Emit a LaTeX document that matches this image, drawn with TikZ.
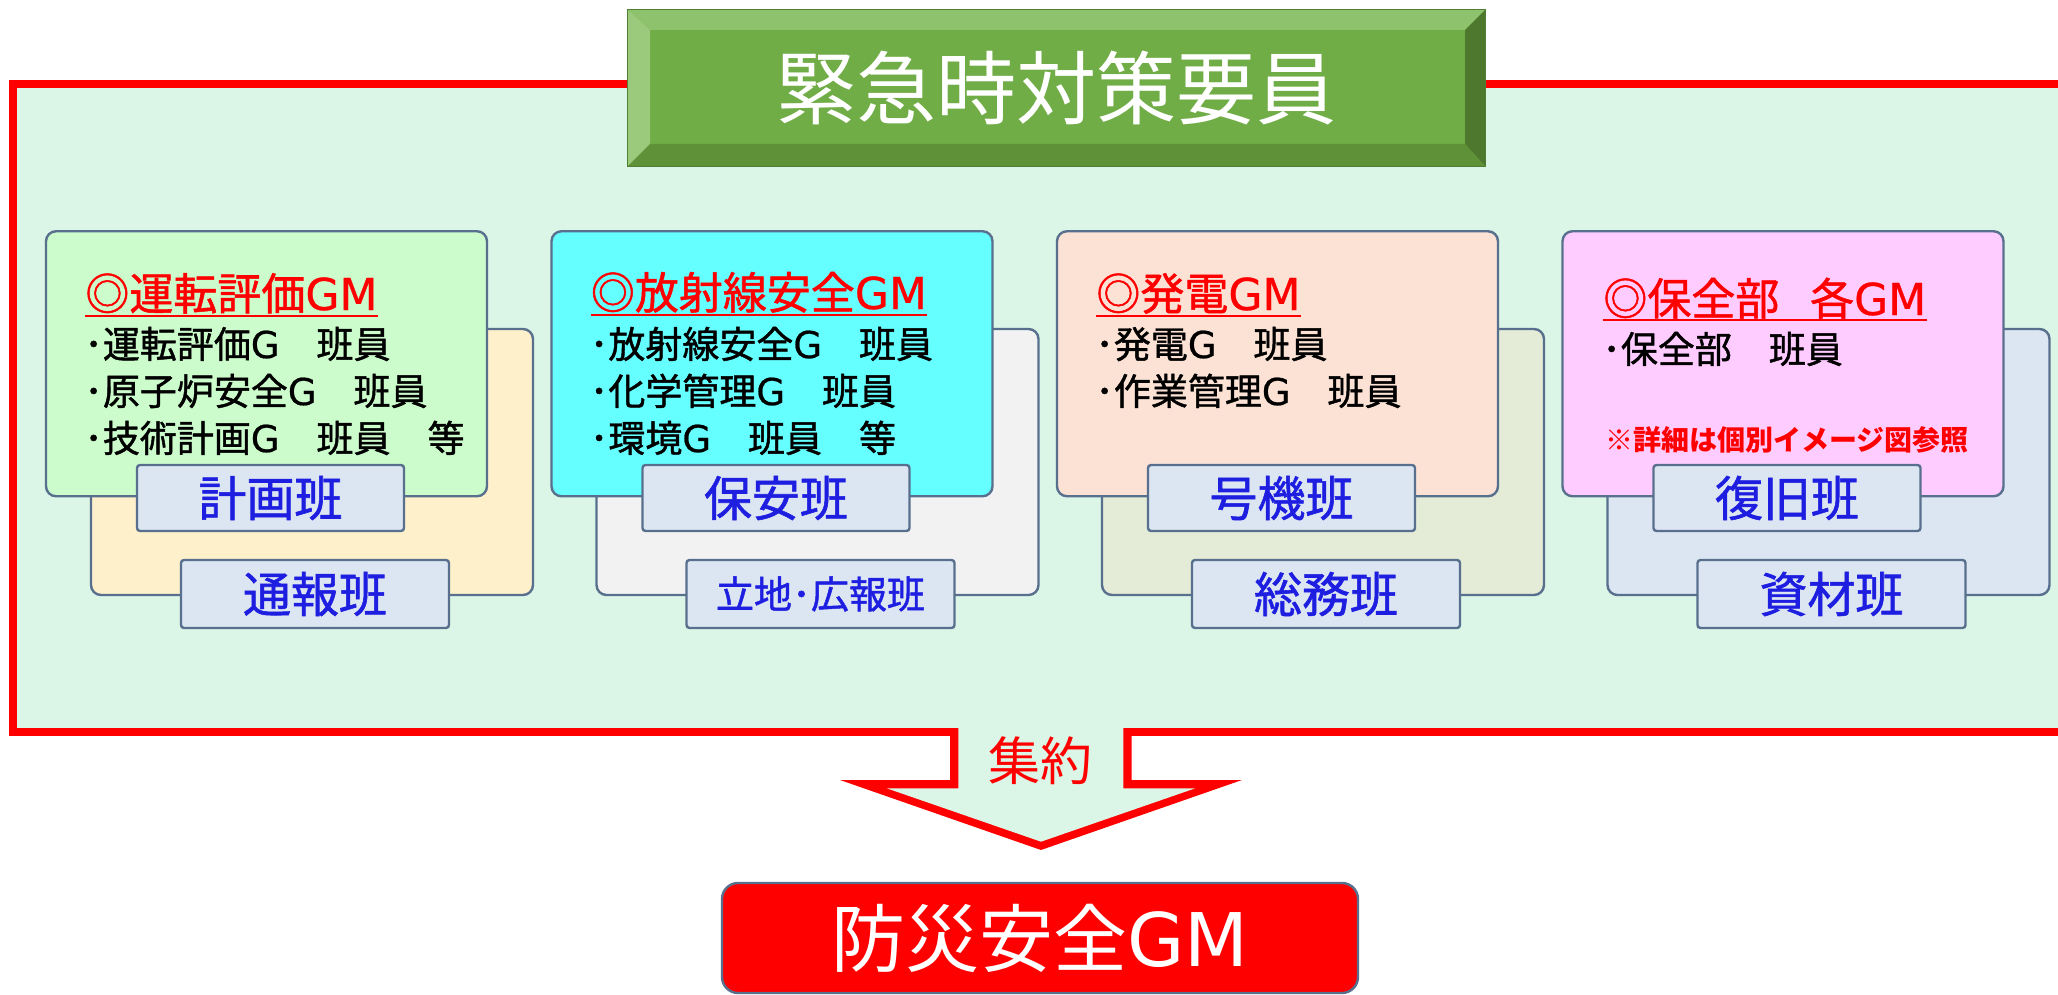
\documentclass[tikz,border=0pt]{standalone}
\usepackage{fontspec}
\setmainfont{Noto Sans CJK JP}
\newfontfamily\jpmed{Noto Sans CJK JP}[FakeBold=1.2]
\newfontfamily\latmed{DejaVu Sans}[FakeBold=0.6]
\newfontfamily\lat{DejaVu Sans}
\newcommand{\GM}{{\latmed GM}}
\newcommand{\Gl}{{\latmed G}}
\definecolor{mint}{RGB}{219,245,231}
\definecolor{boxline}{RGB}{88,112,142}
\definecolor{lblfill}{RGB}{220,230,242}
\definecolor{lbltext}{RGB}{30,30,225}
\definecolor{fA}{RGB}{204,252,204}
\definecolor{bA}{RGB}{254,240,203}
\definecolor{fB}{RGB}{102,255,255}
\definecolor{bB}{RGB}{242,242,242}
\definecolor{fC}{RGB}{251,226,213}
\definecolor{bC}{RGB}{228,236,216}
\definecolor{fD}{RGB}{255,204,255}
\definecolor{bD}{RGB}{220,230,242}
\definecolor{tgmain}{RGB}{112,173,71}
\definecolor{tgtop}{RGB}{143,194,108}
\definecolor{tgleft}{RGB}{155,202,124}
\definecolor{tgright}{RGB}{78,120,45}
\definecolor{tgbot}{RGB}{95,145,56}
\definecolor{tgline}{RGB}{80,126,50}
\definecolor{framered}{RGB}{255,0,0}
\tikzset{
  x=0.5pt, y=-0.5pt,
  bx/.style={draw=boxline, line width=1.2pt, rounded corners=5pt, inner sep=0pt},
  lbl/.style={draw=boxline, line width=1.2pt, rounded corners=1.5pt, fill=lblfill, inner sep=0pt, text=lbltext, font=\jpmed\fontsize{24}{28}\selectfont},
  ttl/.style={anchor=base west, inner sep=0pt, text=red, font=\jpmed\fontsize{22}{26}\selectfont},
  ln/.style={anchor=base west, inner sep=0pt, text=black, font=\jpmed\fontsize{18.5}{22}\selectfont},
  uline/.style={draw=red, line width=1pt},
}
\newcommand{\grp}[6]{%
  \node[bx, fill=#4, minimum width=221pt, minimum height=133pt] (#1back) at (#2+266,462) {};
  \node[lbl, minimum width=134pt, minimum height=34pt] (#1lb) at (#2+269,594) {#6};
  \node[bx, fill=#3, minimum width=220.5pt, minimum height=132.5pt] (#1front) at (#2+220.5,363.75) {};
  \node[lbl, minimum width=133.5pt, minimum height=33pt] (#1la) at (#2+224.5,498) {#5};
}
\begin{document}
\begin{tikzpicture}
\useasboundingbox (0,0) rectangle (2058,995);
\clip (0,0) rectangle (2058,995);
\fill[white] (0,0) rectangle (2058,995);
% frame
\draw[framered, line width=4pt, fill=mint] (13,84) rectangle (2080,732);
% arrow notch
\fill[framered] (950,732) -- (950,780) -- (840,780) -- (1041,850) -- (1242,780) -- (1131.7,780) -- (1131.7,732) -- cycle;
\fill[mint] (958.3,726) -- (958.3,788.3) -- (886.7,788.3) -- (1041,841.7) -- (1195.3,788.3) -- (1123.3,788.3) -- (1123.3,726) -- cycle;
\node[text=red, font=\fontsize{26}{28}\selectfont, inner sep=0pt] (shuyaku) at (1040,761) {集約};
% title box
\node[fill=tgmain, inner sep=0pt, minimum width=428.5pt, minimum height=78pt, text=white, font=\fontsize{40}{44}\selectfont] (titlebox) at (1056.5,88) {緊急時対策要員};
\fill[tgtop] (628,10) -- (1485,10) -- (1465,30) -- (650,30) -- cycle;
\fill[tgleft] (628,10) -- (650,30) -- (650,144) -- (628,166) -- cycle;
\fill[tgright] (1485,10) -- (1465,30) -- (1465,144) -- (1485,166) -- cycle;
\fill[tgbot] (628,166) -- (650,144) -- (1465,144) -- (1485,166) -- cycle;
\draw[tgline, line width=0.8pt] (titlebox.north west) rectangle (titlebox.south east);
% groups
\grp{A}{46}{fA}{bA}{計画班}{通報班}
\grp{B}{551.5}{fB}{bB}{保安班}{{\fontsize{19}{22}\selectfont 立地･広報班}}
\grp{C}{1057}{fC}{bC}{号機班}{総務班}
\grp{D}{1562.5}{fD}{bD}{復旧班}{資材班}
% group A text
\node[ttl] (At) at (85,310) {◎運転評価\GM};
\draw[uline] ([yshift=-2.75pt]At.base west) -- ([yshift=-2.75pt]At.base east);
\node[ln] (A1) at (84,358) {･運転評価\Gl　班員};
\node[ln] (A2) at (84,405) {･原子炉安全\Gl　班員};
\node[ln] (A3) at (84,452) {･技術計画\Gl　班員　等};
% group B text
\node[ttl] (Bt) at (590.5,309) {◎放射線安全\GM};
\draw[uline] ([yshift=-2.75pt]Bt.base west) -- ([yshift=-2.75pt]Bt.base east);
\node[ln] (B1) at (589.5,358) {･放射線安全\Gl　班員};
\node[ln] (B2) at (589.5,405) {･化学管理\Gl　班員};
\node[ln] (B3) at (589.5,452) {･環境\Gl　班員　等};
% group C text
\node[ttl] (Ct) at (1096,310) {◎発電\GM};
\draw[uline] ([yshift=-2.75pt]Ct.base west) -- ([yshift=-2.75pt]Ct.base east);
\node[ln] (C1) at (1095,358) {･発電\Gl　班員};
\node[ln] (C2) at (1095,405) {･作業管理\Gl　班員};
% group D text
\node[ttl] (Dt) at (1603,315) {◎保全部\hspace{0.7em}各\GM};
\draw[uline] ([yshift=-2.5pt]Dt.base west) -- ([yshift=-2.5pt]Dt.base east);
\node[ln] (D1) at (1602,363) {･保全部　班員};
\node[anchor=base west, inner sep=0pt, text=red, font=\fontsize{14}{16}\selectfont\bfseries] (Dn) at (1605,450) {※詳細は個別イメージ図参照};
% bottom box
\node[draw=boxline, fill=red, line width=1.2pt, rounded corners=8pt, minimum width=318pt, minimum height=55pt, inner sep=0pt, text=white, font=\fontsize{37}{40}\selectfont] (bosai) at (1040,938) {防災安全{\lat GM}};
\end{tikzpicture}
\end{document}
